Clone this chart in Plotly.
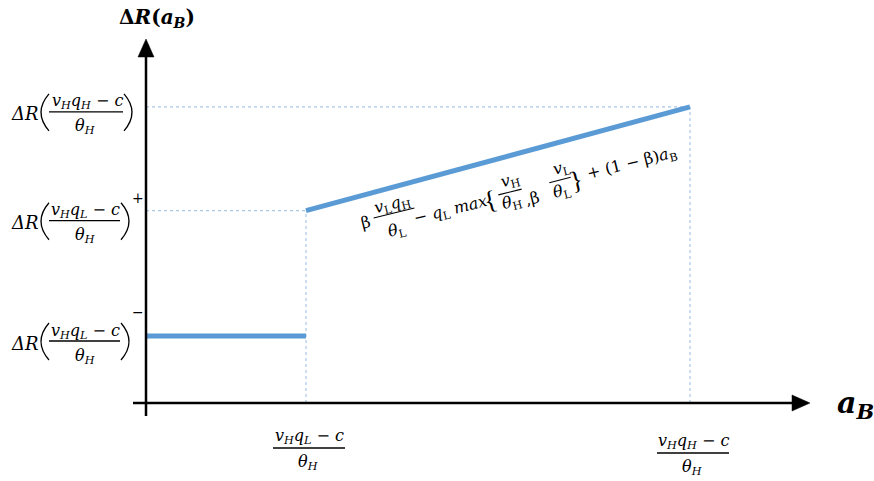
import plotly.graph_objects as go
import math

# ---------------- data (schematic values) ----------------
a_B_thresholds = [1.0, 3.4]          # (vH qL - c)/θH , (vH qH - c)/θH
delta_R_levels = [1.0, 2.87, 4.42]   # ΔR(.)^- , ΔR(.)^+ , ΔR((vH qH - c)/θH)
x_tick_labels = ["v<sub>H</sub>q<sub>L</sub> − c", "v<sub>H</sub>q<sub>H</sub> − c"]
y_tick_numerators = ["v<sub>H</sub>q<sub>L</sub> − c", "v<sub>H</sub>q<sub>L</sub> − c",
                     "v<sub>H</sub>q<sub>H</sub> − c"]
y_tick_superscripts = ["−", "+", ""]

# ---------------- layout constants ----------------
W, H = 874, 481
X0_PX, XU_PX = 146, 160     # pixel of a_B = 0, pixels per unit
Y0_PX, YU_PX = 403, 67      # pixel of ΔR = 0, pixels per unit
FONT = "DejaVu Serif"
BLUE = "#5b9bd5"
GUIDE = "#a9c8e8"

xL, xH = a_B_thresholds
lo, mid, hi = delta_R_levels

fig = go.Figure()

# dotted guide lines
guides = [
    ([0, xH], [hi, hi]),
    ([0, xL], [mid, mid]),
    ([xL, xL], [0, mid]),
    ([xH, xH], [0, hi]),
]
for gx, gy in guides:
    fig.add_trace(go.Scatter(x=gx, y=gy, mode="lines",
                             line=dict(color=GUIDE, width=1.2, dash="dot"),
                             hoverinfo="skip"))

# the step function
fig.add_trace(go.Scatter(x=[0, xL], y=[lo, lo], mode="lines",
                         line=dict(color=BLUE, width=5), hoverinfo="skip"))
fig.add_trace(go.Scatter(x=[xL, xH], y=[mid, hi], mode="lines",
                         line=dict(color=BLUE, width=5), hoverinfo="skip"))


def px2p(px, py):
    return px / W, 1 - py / H


def text(px, py, s, size=16, angle=0, family=FONT):
    x, y = px2p(px, py)
    fig.add_annotation(x=x, y=y, xref="paper", yref="paper", text=s,
                       showarrow=False, textangle=angle,
                       font=dict(family=family, size=size, color="black"),
                       xanchor="center", yanchor="middle")


def seg(x1, y1, x2, y2, width=1.3, color="black"):
    a, b = px2p(x1, y1)
    c, d = px2p(x2, y2)
    fig.add_shape(type="line", xref="paper", yref="paper", x0=a, y0=b, x1=c, y1=d,
                  line=dict(color=color, width=width))


def path(pts, closed=False, fill=None, width=1.4):
    s = ""
    for cmd, pt in pts:
        a, b = px2p(*pt)
        s += f"{cmd} {a:.5f},{b:.5f} "
    if closed:
        s += "Z"
    fig.add_shape(type="path", xref="paper", yref="paper", path=s,
                  line=dict(color="black", width=width),
                  fillcolor=fill if fill else "rgba(0,0,0,0)")


def paren(xl, xr, yt, yb, left=True, width=1.3):
    ym = (yt + yb) / 2
    if left:
        pts = [("M", (xr, yt)), ("Q", (2 * xl - xr, ym)), ("", (xr, yb))]
    else:
        pts = [("M", (xl, yt)), ("Q", (2 * xr - xl, ym)), ("", (xl, yb))]
    s = ""
    for cmd, pt in pts:
        a, b = px2p(*pt)
        s += f"{cmd} {a:.5f},{b:.5f} "
    fig.add_shape(type="path", xref="paper", yref="paper", path=s,
                  line=dict(color="black", width=width))


def ital(s):
    return "<i>" + s.replace("<sub>", "</i><sub><i>").replace("</sub>", "</i></sub><i>") + "</i>"


# ---------------- axes ----------------
seg(X0_PX, 416, X0_PX, 55, width=2.5)
seg(133, Y0_PX, 795, Y0_PX, width=2.5)
path([("M", (X0_PX, 39)), ("L", (X0_PX - 8, 57)), ("L", (X0_PX + 8, 57))], closed=True, fill="black", width=0.5)
path([("M", (810, Y0_PX)), ("L", (792, Y0_PX - 8)), ("L", (792, Y0_PX + 8))], closed=True, fill="black", width=0.5)

text(157, 18, "<b>Δ<i>R</i>(<i>a</i><sub><i>B</i></sub>)</b>", size=20)
text(855, 404, "<b><i>a</i><sub><i>B</i></sub></b>", size=30)

# ---------------- y tick labels ----------------
ypix = [Y0_PX - v * YU_PX for v in delta_R_levels]
offsets = [5, 10, 5]
bar_right = [120, 120, 123]
sup_dy = [-29, -23, 0]
for yp, off, br, num, sup, sdy in zip(ypix, offsets, bar_right, y_tick_numerators,
                                      y_tick_superscripts, sup_dy):
    yb = yp + off
    text(25, yb + 2, "<i>ΔR</i>", size=18)
    paren(41, 49, yb - 18, yb + 19, left=True)
    text((49 + br) / 2 + 1, yb - 10, ital(num), size=16)
    seg(49, yb, br, yb, width=1.3)
    text(85, yb + 15, ital("θ<sub>H</sub>"), size=16)
    paren(br + 1, br + 9, yb - 18, yb + 19, left=False)
    if sup:
        text(br + 18, yb + sdy, sup, size=14)

# ---------------- x tick labels ----------------
xpix = [X0_PX + v * XU_PX for v in a_B_thresholds]
x_bar_y = [448, 453]
for xp, by, num in zip(xpix, x_bar_y, x_tick_labels):
    cx = xp + 3
    text(cx, by - 12, ital(num), size=16)
    seg(cx - 36, by, cx + 36, by, width=1.3)
    text(cx - 1, by + 14, ital("θ<sub>H</sub>"), size=16)

# ---------------- rotated formula on the upper segment ----------------
ANG = 14.0
ca, sa = math.cos(math.radians(ANG)), math.sin(math.radians(ANG))


def rbar(cx, cy, L):
    seg(cx - L / 2 * ca, cy + L / 2 * sa, cx + L / 2 * ca, cy - L / 2 * sa, width=1.1)


FS = 16
text(365, 222, "β", size=FS, angle=-ANG)
text(392, 204, "<i>v</i><sub>L</sub><i>q</i><sub>H</sub>", size=FS, angle=-ANG)
rbar(394, 213, 42)
text(397, 230, "<i>θ</i><sub>L</sub>", size=FS, angle=-ANG)
text(450, 210, "− <i>q</i><sub>L</sub> <i>max</i>", size=FS, angle=-ANG)
text(490, 200, "{", size=26, angle=-ANG, family="Liberation Serif")
text(511, 181, "<i>v</i><sub>H</sub>", size=FS, angle=-ANG)
rbar(510, 192, 24)
text(512, 202, "<i>θ</i><sub>H</sub>", size=FS, angle=-ANG)
text(532, 198, ",β", size=FS, angle=-ANG)
text(561, 168, "<i>v</i><sub>L</sub>", size=FS, angle=-ANG)
rbar(560, 180, 22)
text(562, 191, "<i>θ</i><sub>L</sub>", size=FS, angle=-ANG)
text(576, 180, "}", size=26, angle=-ANG, family="Liberation Serif")
text(632, 163, "+ (1 − β)<i>a</i><sub>B</sub>", size=FS, angle=-ANG)

fig.update_layout(
    width=W, height=H,
    margin=dict(l=0, r=0, t=0, b=0),
    paper_bgcolor="white", plot_bgcolor="white",
    showlegend=False,
    xaxis=dict(visible=False, range=[-X0_PX / XU_PX, (W - X0_PX) / XU_PX], fixedrange=True),
    yaxis=dict(visible=False, range=[(Y0_PX - H) / YU_PX, Y0_PX / YU_PX], fixedrange=True),
)

fig.write_html("out.html", config={"displayModeBar": False},
               post_script="document.body.style.margin='0';")
